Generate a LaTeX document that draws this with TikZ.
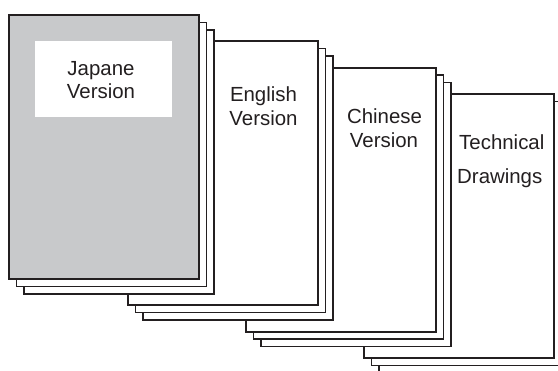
\documentclass[tikz,border=0pt]{standalone}
\usepackage{fontspec}
\setmainfont{Liberation Sans}
\definecolor{ink}{HTML}{231F20}
\definecolor{cover}{HTML}{C8C9CB}
\tikzset{
  backpage/.style={draw=ink, line width=1.2bp, fill=white, line join=miter},
  frontpage/.style={draw=ink, line width=2bp, line join=miter},
  label/.style={font=\fontsize{20.5}{24}\selectfont, text=ink, inner sep=0pt, anchor=base},
  labelw/.style={label, anchor=base west}
}
\newcommand\bookstack[3]{%
  \draw[backpage] (#1+15,#2+15) rectangle ++(190,264);
  \draw[backpage] (#1+7.5,#2+7.5) rectangle ++(190,264);
  \draw[frontpage, fill=#3] (#1,#2) rectangle ++(190,264);
}
\begin{document}
\begin{tikzpicture}[x=1bp,y=-1bp]
  \useasboundingbox (0,0) rectangle (558,370);
  \bookstack{364}{94}{white}
  \bookstack{246}{67.5}{white}
  \bookstack{128}{41}{white}
  \bookstack{9}{15}{cover}
  \fill[white] (35,41) rectangle (172,117);
  \node[label] (j1) at (101,75) {Japane};
  \node[label] (j2) at (101,98) {Version};
  \node[label] (e1) at (263.5,101) {English};
  \node[label] (e2) at (263.5,125) {Version};
  \node[label] (c1) at (384.5,123) {Chinese};
  \node[label] (c2) at (384,147) {Version};
  \node[labelw] (t1) at (459,149) {Technical};
  \node[labelw] (t2) at (457,183) {Drawings};
\end{tikzpicture}
\end{document}
